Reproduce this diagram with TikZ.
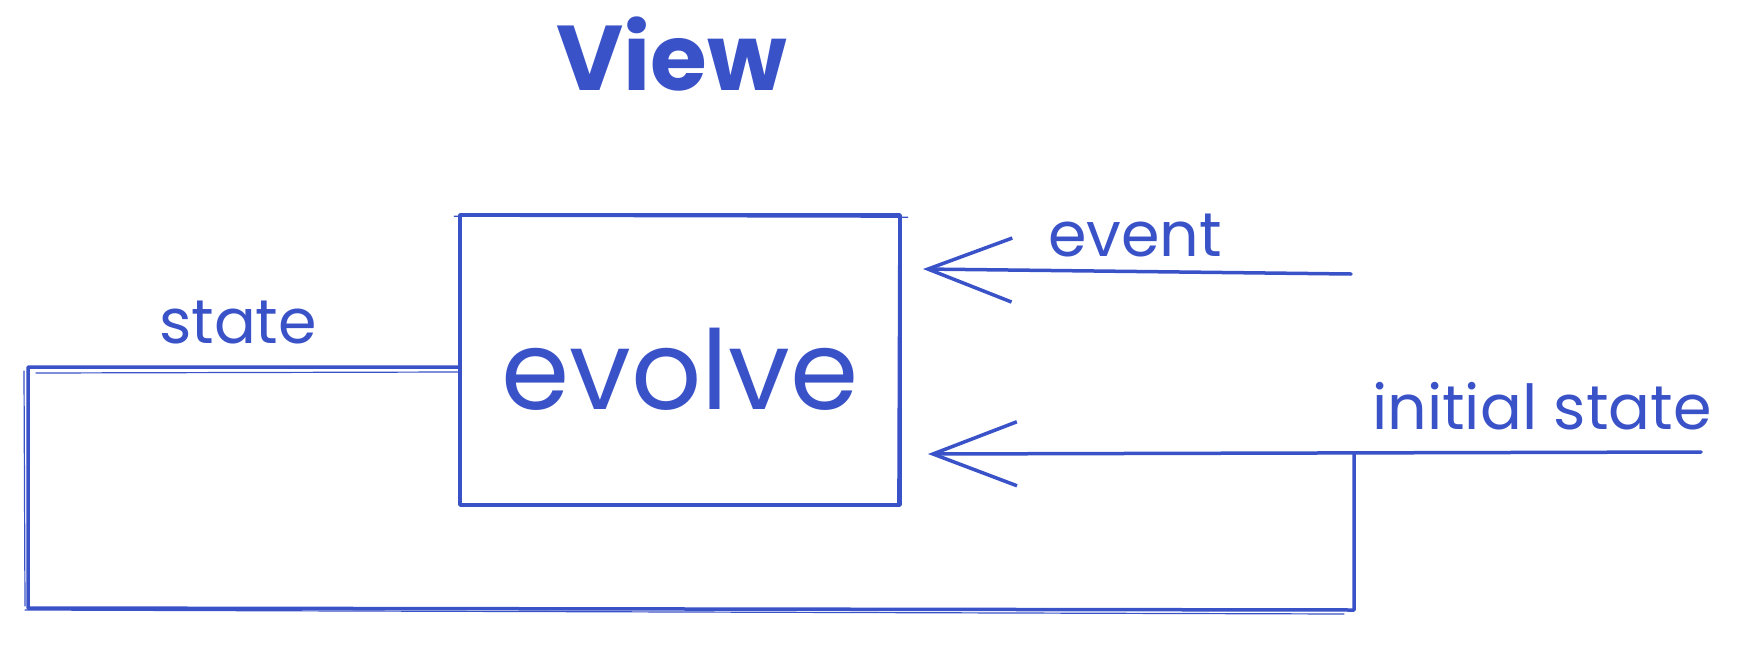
\documentclass[tikz,border=0pt]{standalone}
\usepackage{fontspec}
\setmainfont{Poppins}
\usetikzlibrary{arrows.meta}
\definecolor{ink}{RGB}{58,82,200}
\begin{document}
\begin{tikzpicture}[x=1pt,y=-1pt,
  stroke/.style={draw=ink, line width=3.5pt, line cap=round, line join=round},
  sketch/.style={draw=ink, line width=1.2pt, line cap=round},
  arr/.style={stroke, -{Straight Barb[length=84pt,width=64pt]}},
  lbl/.style={text=ink, inner sep=0pt, font=\fontsize{62}{70}\selectfont},
  boxstyle/.style={stroke, minimum width=440pt, minimum height=290pt, inner sep=0pt}]
\useasboundingbox (0,0) rectangle (1758,664);
% title
\node[text=ink, inner sep=0pt, font=\fontsize{92}{100}\selectfont\bfseries] (title) at (672,54) {View};
% main box
\node[boxstyle] (evolve) at (680,360) {};
\node[text=ink, inner sep=0pt, font=\fontsize{110}{120}\selectfont] (evolvetxt) at ([yshift=-9pt]evolve.center) {evolve};
\draw[sketch] ([xshift=-4pt,yshift=-3pt]evolve.north west) -- ([xshift=6pt,yshift=-4pt]evolve.north east);
\draw[sketch] ([xshift=-4pt,yshift=3pt]evolve.south east) -- ([xshift=-3pt,yshift=-6pt]evolve.north east);
% labels
\node[lbl] (evlbl) at (1135,236) {event};
\node[lbl] (islbl) at (1542,406) {initial state};
\node[lbl] (stlbl) at (238,323) {state};
% event input
\coordinate (evtail) at (1351,274);
\coordinate (evtip) at (923,269);
\draw[arr] (evtail) -- (evtip);
% initial state input
\coordinate (istail) at (1701,452);
\coordinate (join) at (1354,453);
\coordinate (istip) at (928,454);
\draw[arr] (istail) -- (istip);
% feedback loop
\coordinate (lt) at (28,367);
\coordinate (lb) at (28,608);
\coordinate (rb) at (1354,610);
\draw[stroke] (evolve.west |- lt) -- (lt) -- (lb) -- (rb) -- (join);
\draw[sketch] ([yshift=-5pt]evolve.west |- lt) -- ([xshift=8pt,yshift=-6pt]lt);
\draw[sketch] ([xshift=-4pt,yshift=-4pt]lt) -- ([xshift=-3pt,yshift=2pt]lb);
\draw[sketch] ([xshift=-3pt,yshift=-2pt]lb) -- ([xshift=-10pt,yshift=-4pt]rb);
\end{tikzpicture}
\end{document}
